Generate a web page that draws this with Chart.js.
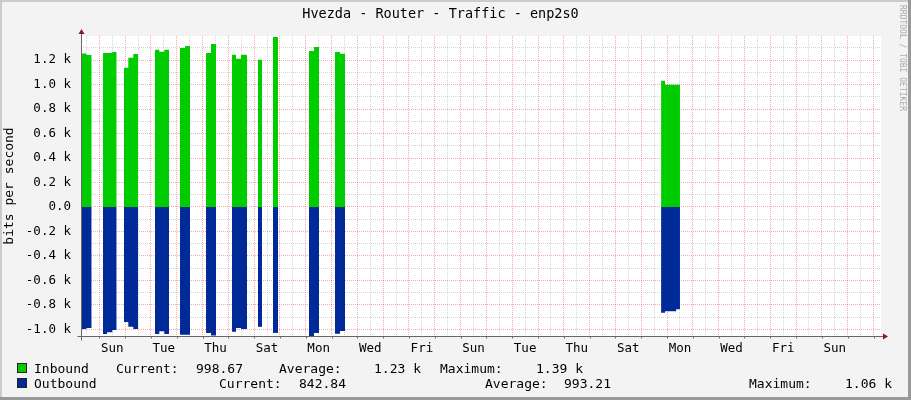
<!DOCTYPE html>
<html>
<head>
<meta charset="utf-8">
<title>Hvezda - Router - Traffic - enp2s0</title>
<script src="https://cdn.jsdelivr.net/npm/chart.js@4.4.1/dist/chart.umd.min.js"></script>
<style>
  html, body { margin: 0; padding: 0; background: #f3f3f3; }
  #frame { position: relative; width: 911px; height: 400px; overflow: hidden; }
  #graph { position: absolute; left: 0; top: 0; }
  .leg { position: absolute; font: 13px 'DejaVu Sans Mono', monospace; line-height: 15px; white-space: pre; color: #000; }
  .box { position: absolute; left: 17px; width: 10px; height: 10px; box-sizing: border-box; border: 1px solid #222; }
  #mark { position: absolute; left: 898px; top: 5px; writing-mode: vertical-rl; font: 8px 'DejaVu Sans Mono', monospace; line-height: 8px; color: #aaa; white-space: pre; }
</style>
</head>
<body>
<div id="frame">
  <canvas id="graph" width="911" height="400"></canvas>

  <div class="box" style="top:363px; background:#00cc00"></div>
  <span class="leg" style="left:34px; top:360.5px">Inbound</span>
  <span class="leg" style="left:116px; top:360.5px">Current:</span>
  <span class="leg" style="left:196px; top:360.5px">998.67</span>
  <span class="leg" style="left:279px; top:360.5px">Average:</span>
  <span class="leg" style="left:374px; top:360.5px">1.23 k</span>
  <span class="leg" style="left:440px; top:360.5px">Maximum:</span>
  <span class="leg" style="left:536px; top:360.5px">1.39 k</span>

  <div class="box" style="top:378px; background:#002a97"></div>
  <span class="leg" style="left:34px; top:376px">Outbound</span>
  <span class="leg" style="left:219px; top:376px">Current:</span>
  <span class="leg" style="left:299px; top:376px">842.84</span>
  <span class="leg" style="left:485px; top:376px">Average:</span>
  <span class="leg" style="left:564px; top:376px">993.21</span>
  <span class="leg" style="left:749px; top:376px">Maximum:</span>
  <span class="leg" style="left:845px; top:376px">1.06 k</span>

  <div id="mark">RRDTOOL / TOBI OETIKER</div>
</div>

<script>
'use strict';

// x is measured in days from the first Sunday 00:00 in the graph
let dayMin = -0.709;
let dayMax = 30.29;
let dayNames = ['Sun', 'Mon', 'Tue', 'Wed', 'Thu', 'Fri', 'Sat'];

// each value holds until the next sample, null = no data
let sampleDay = [
  -0.709, -0.659, -0.496, -0.295, -0.29,
  0.143, 0.298, 0.504, 0.674, 0.68,
  0.957, 1.124, 1.318, 1.5, 1.51,
  2.159, 2.326, 2.519, 2.702, 2.71,
  3.128, 3.322, 3.516, 3.52,
  4.136, 4.329, 4.523, 4.53,
  5.143, 5.298, 5.492, 5.725, 5.73,
  6.149, 6.304, 6.31,
  6.731, 6.925, 6.93,
  8.126, 8.32, 8.514, 8.52,
  9.134, 9.328, 9.522, 9.53,
  21.77, 21.92, 22.35, 22.5
];
let inboundBits = [
  1254, 1254, 1243, 1243, null,
  1260, 1260, 1268, 1268, null,
  1138, 1220, 1250, 1250, null,
  1285, 1270, 1285, 1285, null,
  1300, 1317, 1317, null,
  1260, 1333, 1333, null,
  1244, 1211, 1244, 1244, null,
  1203, 1203, null,
  1390, 1390, null,
  1276, 1309, 1309, null,
  1268, 1252, 1252, null,
  1033, 1000, 1000, 1000
];
let outboundBits = [
  1005, 998, 990, 990, null,
  1038, 1025, 1005, 1005, null,
  940, 980, 998, 998, null,
  1038, 1016, 1038, 1038, null,
  1044, 1044, 1044, null,
  1030, 1050, 1050, null,
  1020, 990, 998, 998, null,
  980, 980, null,
  1030, 1030, null,
  1055, 1030, 1030, null,
  1036, 1014, 1014, null,
  864, 853, 837, 837
];

let yMin = -1055;
let yMax = 1398;
let yTicks = [-1000, -900, -800, -700, -600, -500, -400, -300, -200, -100, 0,
  100, 200, 300, 400, 500, 600, 700, 800, 900, 1000, 1100, 1200, 1300];
let xTicks = [];
for (let d = -0.5; d <= 30; d += 0.5) {
  xTicks.push(d);
}

let monoFont = "'DejaVu Sans Mono', monospace";
let majorGrid = 'rgba(230, 40, 40, 0.4)';
let minorGrid = 'rgba(150, 150, 150, 0.4)';

function inPoints() {
  return sampleDay.map((d, i) => ({ x: d, y: inboundBits[i] }));
}

function outPoints() {
  return sampleDay.map((d, i) => ({ x: d, y: outboundBits[i] === null ? null : -outboundBits[i] }));
}

function xLabel(value) {
  let rest = (value - 0.5) % 2;
  if (value > 0 && Math.abs(rest) < 1e-6) {
    return dayNames[Math.floor(value) % 7];
  }
  return '';
}

function yLabel(value) {
  if (value % 200 !== 0) return '';
  if (value === 0) return '0.0';
  return (value / 1000).toFixed(1) + ' k';
}

// background, frame, axes with arrows
let rrdLook = {
  id: 'rrdLook',
  beforeDraw(chart) {
    let ctx = chart.ctx;
    let area = chart.chartArea;
    ctx.save();
    ctx.fillStyle = '#f3f3f3';
    ctx.fillRect(0, 0, chart.width, chart.height);
    ctx.fillStyle = '#ffffff';
    ctx.fillRect(area.left, area.top, area.right - area.left, area.bottom - area.top);
    ctx.restore();
  },
  afterDraw(chart) {
    let ctx = chart.ctx;
    let area = chart.chartArea;
    let xScale = chart.scales.x;
    ctx.save();
    // frame
    ctx.fillStyle = '#cbcbcb';
    ctx.fillRect(0, 0, chart.width, 2);
    ctx.fillRect(0, 0, 2, chart.height);
    ctx.fillStyle = '#999999';
    ctx.fillRect(chart.width - 3, 0, 3, chart.height);
    ctx.fillRect(0, chart.height - 3, chart.width, 3);

    // axes
    let ax = Math.round(area.left) + 0.5;
    let ay = Math.round(area.bottom) + 0.5;
    ctx.strokeStyle = '#666666';
    ctx.lineWidth = 1;
    ctx.beginPath();
    ctx.moveTo(ax, ay + 4);
    ctx.lineTo(ax, area.top - 4);
    ctx.moveTo(ax - 4, ay);
    ctx.lineTo(area.right + 3, ay);
    for (let v of xTicks) {
      if (Math.abs(v % 1) < 1e-6) {
        let px = Math.round(xScale.getPixelForValue(v)) + 0.5;
        ctx.moveTo(px, ay);
        ctx.lineTo(px, ay + 2);
      }
    }
    ctx.stroke();

    ctx.fillStyle = '#8b1a1a';
    ctx.beginPath();
    ctx.moveTo(ax, area.top - 7);
    ctx.lineTo(ax - 3, area.top - 2);
    ctx.lineTo(ax + 3, area.top - 2);
    ctx.closePath();
    ctx.fill();
    ctx.beginPath();
    ctx.moveTo(area.right + 7, ay);
    ctx.lineTo(area.right + 2, ay - 3);
    ctx.lineTo(area.right + 2, ay + 3);
    ctx.closePath();
    ctx.fill();
    ctx.restore();
  }
};

let config = {
  type: 'line',
  data: {
    datasets: [{
      label: 'Inbound',
      data: inPoints(),
      backgroundColor: '#00cc00',
      borderColor: 'rgba(0, 0, 0, 0)',
      borderWidth: 0,
      pointRadius: 0,
      stepped: true,
      fill: 'origin',
      spanGaps: false
    }, {
      label: 'Outbound',
      data: outPoints(),
      backgroundColor: '#002a97',
      borderColor: 'rgba(0, 0, 0, 0)',
      borderWidth: 0,
      pointRadius: 0,
      stepped: true,
      fill: 'origin',
      spanGaps: false
    }]
  },
  options: {
    responsive: false,
    animation: false,
    events: [],
    layout: { padding: { left: 0, right: 30, top: 0, bottom: 0 } },
    plugins: {
      legend: { display: false },
      tooltip: { enabled: false },
      title: {
        display: true,
        text: 'Hvezda - Router - Traffic - enp2s0',
        color: '#000',
        font: { family: monoFont, size: 13.5, weight: 'normal' },
        padding: { top: 6.5, bottom: 13.3 }
      }
    },
    scales: {
      x: {
        type: 'linear',
        min: dayMin,
        max: dayMax,
        afterBuildTicks: (scale) => { scale.ticks = xTicks.map(v => ({ value: v })); },
        afterFit: (scale) => { scale.height = 64; },
        grid: {
          drawTicks: false,
          lineWidth: 1,
          color: (ctx) => {
            if (!ctx.tick) return 'rgba(0,0,0,0)';
            return Math.abs(ctx.tick.value % 1) < 1e-6 ? majorGrid : minorGrid;
          }
        },
        border: { display: false, dash: [1, 1] },
        ticks: {
          autoSkip: false,
          maxRotation: 0,
          minRotation: 0,
          padding: 5,
          color: '#000',
          font: { family: monoFont, size: 12.5 },
          callback: (value) => xLabel(value)
        }
      },
      y: {
        min: yMin,
        max: yMax,
        afterBuildTicks: (scale) => { scale.ticks = yTicks.map(v => ({ value: v })); },
        afterFit: (scale) => { scale.width = 81; },
        grid: {
          drawTicks: false,
          lineWidth: 1,
          color: (ctx) => {
            if (!ctx.tick) return 'rgba(0,0,0,0)';
            return ctx.tick.value % 200 === 0 ? majorGrid : minorGrid;
          }
        },
        border: { display: false, dash: [1, 1] },
        title: {
          display: true,
          text: 'bits per second',
          color: '#000',
          font: { family: monoFont, size: 13 },
          padding: { top: 2, bottom: 0 }
        },
        ticks: {
          autoSkip: false,
          padding: 10,
          color: '#000',
          font: { family: monoFont, size: 12.5 },
          callback: (value) => yLabel(value)
        }
      }
    }
  },
  plugins: [rrdLook]
};

let trafficChart = new Chart(document.getElementById('graph'), config);
</script>
</body>
</html>
